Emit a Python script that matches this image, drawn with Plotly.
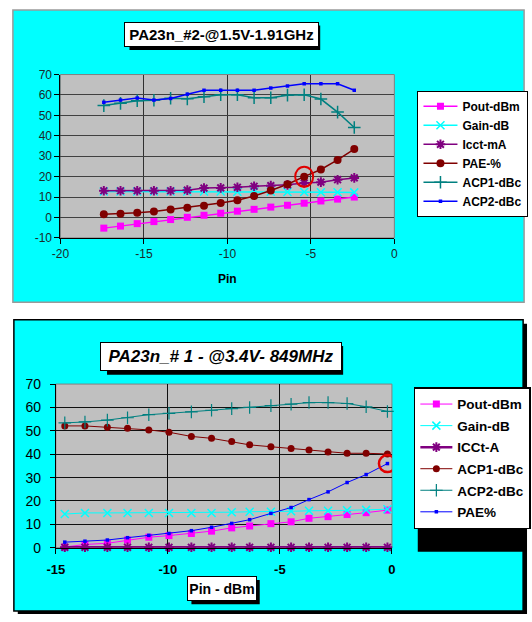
import plotly.graph_objects as go

# ---------------- data: top chart (PA23n_#2 @1.5V 1.91GHz) ----------------
pin_top = [-17.4, -16.4, -15.4, -14.4, -13.4, -12.4, -11.4, -10.4, -9.4, -8.4, -7.4, -6.4, -5.4, -4.4, -3.4, -2.4]
pout_top = [-5.2, -4.2, -3.0, -2.0, -1.0, 0.1, 1.1, 2.1, 3.1, 4.0, 5.1, 6.0, 7.0, 8.1, 9.0, 10.0]
gain_top = [12.7, 12.7, 12.7, 12.7, 12.7, 12.7, 12.7, 12.7, 12.6, 12.6, 12.6, 12.5, 12.5, 12.4, 12.4, 12.3]
icct_top = [13.1, 13.1, 13.1, 13.1, 13.1, 13.4, 14.4, 14.5, 14.8, 15.3, 15.6, 16.0, 16.9, 17.3, 18.5, 19.4]
pae_top = [1.6, 1.8, 2.3, 2.9, 3.9, 4.8, 5.8, 7.1, 8.5, 10.5, 13.2, 16.3, 20.0, 23.5, 28.2, 33.5]
acp1_top = [54.8, 55.9, 57.2, 57.4, 58.4, 58.1, 59.1, 60.1, 60.1, 58.6, 58.6, 59.9, 60.1, 58.0, 51.6, 44.1]
acp2_top = [56.4, 57.5, 58.5, 57.5, 58.3, 60.4, 62.3, 62.3, 62.3, 62.3, 63.4, 64.4, 65.5, 65.5, 65.5, 62.3]
xtick_top = [-20, -15, -10, -5, 0]
xtext_top = ["-20", "-15", "-10", "-5", "0"]
ytick_top = [-10, 0, 10, 20, 30, 40, 50, 60, 70]
ytext_top = ["-10", "0", "10", "20", "30", "40", "50", "60", "70"]
names_top = ["Pout-dBm", "Gain-dB", "Icct-mA", "PAE-%", "ACP1-dBc", "ACP2-dBc"]
title_top = "PA23n_#2-@1.5V-1.91GHz"
xlabel_top = "Pin"
mark_top_idx = 12

# ---------------- data: bottom chart (PA23n_#1 @3.4V 849MHz) ----------------
pin_bot = [-14.6, -13.7, -12.7, -11.8, -10.85, -9.95, -8.95, -8.05, -7.15, -6.35, -5.4, -4.5, -3.7, -2.85, -2.0, -1.15, -0.2]
pout_bot = [0.3, 1.4, 1.9, 3.3, 4.5, 5.2, 6.1, 7.1, 8.5, 9.3, 10.3, 11.1, 12.6, 13.3, 14.2, 15.0, 16.1]
gain_bot = [14.4, 14.9, 14.9, 14.9, 14.9, 14.9, 14.9, 14.9, 15.2, 15.4, 15.4, 15.6, 15.8, 15.8, 16.0, 16.2, 16.5]
icct_bot = [0.2, 0.2, 0.2, 0.2, 0.2, 0.2, 0.2, 0.2, 0.2, 0.2, 0.2, 0.2, 0.2, 0.2, 0.2, 0.2, 0.2]
acp1_bot = [52.1, 52.1, 51.5, 51.1, 50.4, 49.4, 47.6, 46.8, 45.4, 44.0, 43.2, 42.4, 41.8, 41.0, 40.4, 40.4, 40.1]
acp2_bot = [53.4, 53.8, 54.6, 55.6, 56.9, 57.5, 58.1, 58.8, 59.5, 60.0, 60.8, 61.4, 62.1, 62.1, 61.7, 60.3, 58.3]
pae_bot = [2.4, 2.8, 3.3, 4.3, 5.3, 6.1, 7.3, 8.75, 10.4, 12.0, 14.7, 17.2, 20.6, 23.9, 27.9, 31.3, 36.0]
xtick_bot = [-15, -10, -5, 0]
xtext_bot = ["-15", "-10", "-5", "0"]
ytick_bot = [0, 10, 20, 30, 40, 50, 60, 70]
ytext_bot = ["0", "10", "20", "30", "40", "50", "60", "70"]
names_bot = ["Pout-dBm", "Gain-dB", "ICCt-A", "ACP1-dBc", "ACP2-dBc", "PAE%"]
title_bot = "PA23n_# 1 - @3.4V- 849MHz"
xlabel_bot = "Pin - dBm"

W, H = 532, 622
FONT = "Liberation Sans, Arial, sans-serif"


def px(x):
    return x / W


def py(y):
    return 1 - y / H


MAGENTA, CYAN, PURPLE, DRED, TEAL, BLUE = "#FF00FF", "#00FFFF", "#800080", "#800000", "#008080", "#0000FF"

fig = go.Figure()


def add(x, y, name, color, symbol, size, xa, ya, legend, lw, mlw=0):
    fig.add_trace(go.Scatter(
        x=x, y=y, name=name, mode="lines+markers", xaxis=xa, yaxis=ya, legend=legend,
        legendgroup=legend + name, cliponaxis=False,
        line=dict(color=color, width=lw),
        marker=dict(color=color, symbol=symbol, size=size, line=dict(color=color, width=mlw)),
    ))


# top chart traces
add(pin_top, pout_top, names_top[0], MAGENTA, "square", 7, "x", "y", "legend", 1.5)
add(pin_top, gain_top, names_top[1], CYAN, "x-thin", 8, "x", "y", "legend", 1.5, 1.5)
add(pin_top, icct_top, names_top[2], PURPLE, "asterisk", 8, "x", "y", "legend", 1.5, 2)
add(pin_top, pae_top, names_top[3], DRED, "circle", 8, "x", "y", "legend", 1.5)
add(pin_top, acp1_top, names_top[4], TEAL, "cross-thin", 9, "x", "y", "legend", 1.5, 1.5)
add(pin_top, acp2_top, names_top[5], BLUE, "square", 3.5, "x", "y", "legend", 1.5)

# bottom chart traces
add(pin_bot, pout_bot, names_bot[0], MAGENTA, "square", 7, "x2", "y2", "legend2", 1)
add(pin_bot, gain_bot, names_bot[1], CYAN, "x-thin", 8, "x2", "y2", "legend2", 1, 1.5)
add(pin_bot, icct_bot, names_bot[2], PURPLE, "asterisk", 8, "x2", "y2", "legend2", 2.5, 2)
add(pin_bot, acp1_bot, names_bot[3], DRED, "circle", 7, "x2", "y2", "legend2", 1)
add(pin_bot, acp2_bot, names_bot[4], TEAL, "cross-thin", 9, "x2", "y2", "legend2", 1, 1.2)
add(pin_bot, pae_bot, names_bot[5], BLUE, "square", 3.5, "x2", "y2", "legend2", 1)

# plot area rectangles (pixels)
TOP_L, TOP_R, TOP_T, TOP_B = 52.7, 395.0, 68.3, 236.0
BOT_L, BOT_R, BOT_T, BOT_B = 48.0, 392.5, 386.0, 554.0

shapes = []


def rect(x0, y0, x1, y1, fill, line="rgba(0,0,0,0)", lw=0, layer="below"):
    shapes.append(dict(type="rect", xref="paper", yref="paper", x0=px(x0), x1=px(x1), y0=py(y1), y1=py(y0),
                       fillcolor=fill, line=dict(color=line, width=lw), layer=layer))


# chart backgrounds
rect(4, 2, 528, 302, "#00FFFF", "#9a9a9a", 1.5)
rect(9, 324, 531, 622, "#000000")
rect(5, 320, 527, 619, "#00FFFF", "#000000", 1.5)
# plot areas
rect(TOP_L, TOP_T, TOP_R, TOP_B, "#C0C0C0", "#808080", 1)
rect(BOT_L, BOT_T, BOT_R, BOT_B, "#C0C0C0", "#808080", 1)
# shadows for title boxes / legend / axis label box
rect(123.5, 18, 319, 43, "#000000")
rect(100.5, 347, 342.5, 376.5, "#000000")
rect(419, 393.5, 530, 558, "#000000")
rect(187, 587, 257, 612, "#000000")

# highlight circles anchored to data points
shapes.append(dict(type="circle", xref="x", yref="y", xsizemode="pixel", ysizemode="pixel",
                   xanchor=pin_top[mark_top_idx], yanchor=pae_top[mark_top_idx],
                   x0=-9, x1=9, y0=-10, y1=10, line=dict(color="#E00000", width=2), layer="above"))
shapes.append(dict(type="circle", xref="x2", yref="y2", xsizemode="pixel", ysizemode="pixel",
                   xanchor=pin_bot[-1], yanchor=pae_bot[-1],
                   x0=-8.5, x1=8.5, y0=-8.5, y1=8.5, line=dict(color="#E00000", width=2.5), layer="above"))

annotations = [
    dict(xref="paper", yref="paper", x=px((120.5 + 316) / 2), y=py((15 + 40) / 2), text=title_top,
         showarrow=False, font=dict(family=FONT, size=15, color="black", weight="bold"),
         bgcolor="white", bordercolor="black", borderwidth=1, borderpad=0, width=193, height=23,
         xanchor="center", yanchor="middle"),
    dict(xref="paper", yref="paper", x=px((96.5 + 338.5) / 2), y=py((343 + 372.5) / 2), text="<i>" + title_bot + "</i>",
         showarrow=False, font=dict(family=FONT, size=17, color="black", weight="bold"),
         bgcolor="white", bordercolor="black", borderwidth=1, borderpad=0, width=240, height=27,
         xanchor="center", yanchor="middle"),
    dict(xref="paper", yref="paper", x=px((183 + 253) / 2), y=py((583 + 608) / 2), text=xlabel_bot,
         showarrow=False, font=dict(family=FONT, size=14, color="black", weight="bold"),
         bgcolor="white", bordercolor="black", borderwidth=1, borderpad=0, width=68, height=23,
         xanchor="center", yanchor="middle"),
]

axis_common = dict(showline=True, linecolor="black", linewidth=1, ticks="outside", ticklen=5,
                   tickcolor="black", zeroline=False, showgrid=True, gridwidth=1)

fig.update_layout(
    width=W, height=H, margin=dict(l=0, r=0, t=0, b=0),
    paper_bgcolor="white", plot_bgcolor="rgba(0,0,0,0)",
    font=dict(family=FONT, color="black"),
    xaxis=dict(axis_common, domain=[px(TOP_L), px(TOP_R)], anchor="y", range=[-20, 0],
               tickvals=xtick_top, ticktext=xtext_top, gridcolor="#303030",
               tickfont=dict(size=12, color="#1a2a2a"),
               title=dict(text=xlabel_top, font=dict(size=12, weight="bold"), standoff=14)),
    yaxis=dict(axis_common, domain=[py(TOP_B), py(TOP_T)], anchor="x", range=[-10, 70],
               tickvals=ytick_top, ticktext=ytext_top, gridcolor="#404040",
               tickfont=dict(size=12, color="#1a2a2a")),
    xaxis2=dict(axis_common, domain=[px(BOT_L), px(BOT_R)], anchor="y2", range=[-15, 0],
                tickvals=xtick_bot, ticktext=xtext_bot, gridcolor="#101010",
                tickfont=dict(size=13, weight="bold"), ticklabelstandoff=5),
    yaxis2=dict(axis_common, domain=[py(BOT_B), py(BOT_T)], anchor="x2", range=[0, 70],
                tickvals=ytick_bot, ticktext=ytext_bot, gridcolor="#101010",
                tickfont=dict(size=14), ticklabelstandoff=6),
    legend=dict(x=px(418.7), y=py(85), xanchor="left", yanchor="top", bgcolor="white",
                bordercolor="black", borderwidth=1, font=dict(size=12, weight="bold"),
                tracegroupgap=0, itemwidth=34),
    legend2=dict(x=px(415), y=py(389.3), xanchor="left", yanchor="top", bgcolor="white",
                 bordercolor="black", borderwidth=1.5, font=dict(size=13.5, weight="bold"),
                 tracegroupgap=1, itemwidth=32),
    shapes=shapes, annotations=annotations, showlegend=True,
)

fig.write_html("out.html")
